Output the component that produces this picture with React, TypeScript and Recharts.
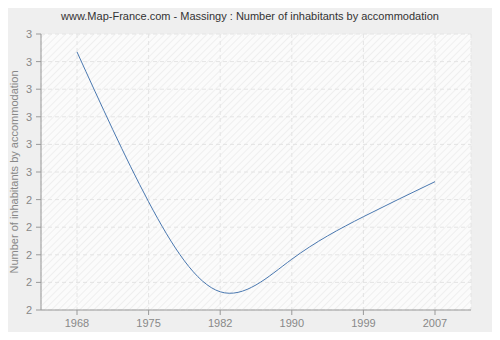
import React from "react";
import { LineChart, Line, XAxis, YAxis, CartesianGrid } from "recharts";

const years = ["1968", "1975", "1982", "1990", "1999", "2007"];
const inhabitants = [2.935, 2.392, 2.066, 2.184, 2.338, 2.465];
const yTicks = [2, 2.1, 2.2, 2.3, 2.4, 2.5, 2.6, 2.7, 2.8, 2.9, 3];

const data = years.map((year, i) => ({ year, value: inhabitants[i] }));

const FONT = "'Liberation Sans', Arial, sans-serif";
const tickStyle = { fontSize: 11, fill: "#888", fontFamily: FONT };

export default function App() {
  return (
    <div style={{ position: "relative", width: 500, height: 340, background: "#fff", margin: -8 }}>
      <div
        style={{
          position: "absolute",
          left: 4,
          top: 4,
          width: 489,
          height: 329,
          background: "#efefef",
          border: "1px solid #dcdcdc",
          borderRadius: 6,
          boxShadow: "1px 1px 2px rgba(0,0,0,0.12)",
        }}
      />
      <div
        style={{
          position: "absolute",
          left: 0,
          top: 10,
          width: 500,
          textAlign: "center",
          fontFamily: FONT,
          fontSize: 11,
          color: "#333",
        }}
      >
        www.Map-France.com - Massingy : Number of inhabitants by accommodation
      </div>
      <div style={{ position: "absolute", left: 0, top: 0 }}>
        <LineChart width={500} height={340} data={data} margin={{ top: 34, right: 29, bottom: 0, left: 0 }}>
          <defs>
            <pattern id="hatch" width="5" height="5" patternUnits="userSpaceOnUse" patternTransform="rotate(45)">
              <rect width="5" height="5" fill="#fbfbfb" />
              <line x1="0" y1="0" x2="0" y2="5" stroke="#ebebeb" strokeWidth="1.5" />
            </pattern>
          </defs>
          <CartesianGrid stroke="#e4e4e4" strokeDasharray="4 3" fill="url(#hatch)" />
          <XAxis
            dataKey="year"
            height={30}
            padding={{ left: 36, right: 36 }}
            stroke="#999"
            tick={tickStyle}
            tickSize={5}
            tickMargin={4}
          />
          <YAxis
            domain={[2, 3]}
            ticks={yTicks}
            width={41}
            stroke="#999"
            tick={tickStyle}
            tickSize={5}
            tickMargin={4}
            tickFormatter={(v: number) => String(Math.round(v))}
            label={{
              value: "Number of inhabitants by accommodation",
              angle: -90,
              position: "center",
              dx: -6,
              style: { fontSize: 11, fill: "#888", fontFamily: FONT },
            }}
          />
          <Line
            type="natural"
            dataKey="value"
            stroke="#4a78b0"
            strokeWidth={1}
            dot={false}
            isAnimationActive={false}
          />
        </LineChart>
      </div>
    </div>
  );
}
